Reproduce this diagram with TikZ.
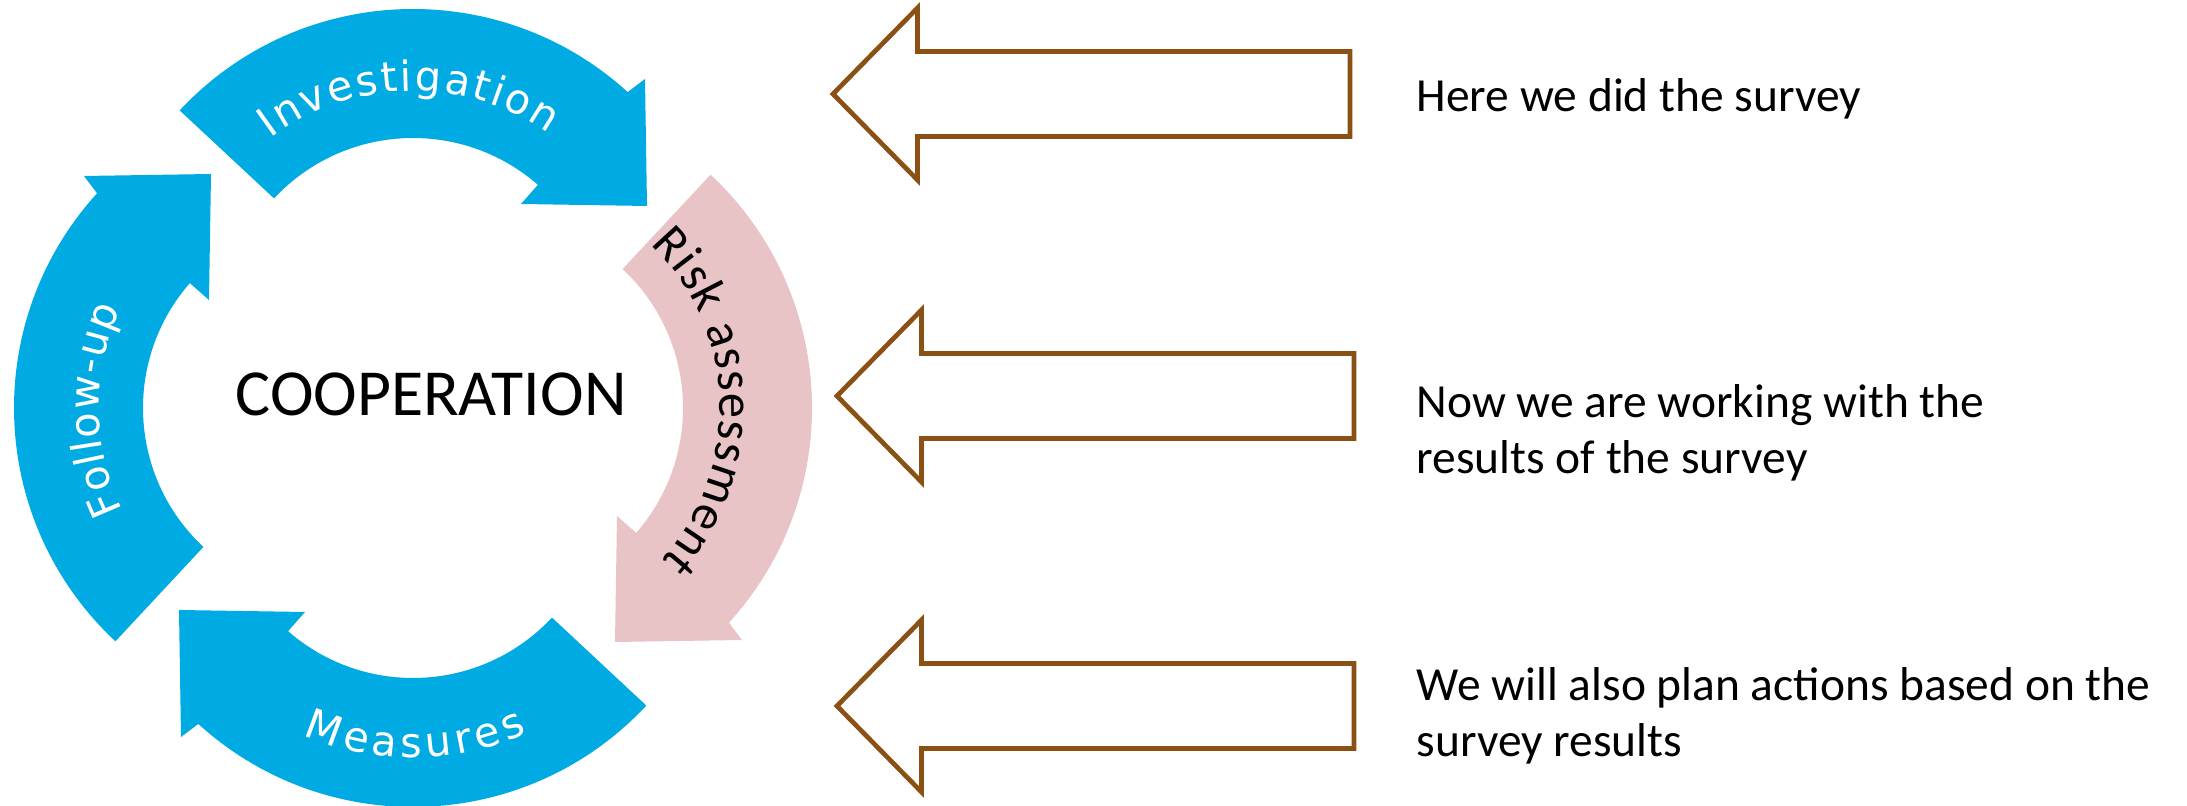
\documentclass[tikz,border=0pt]{standalone}
\usepackage{fontspec}
\setmainfont{Carlito}
\newfontfamily\dejavu{DejaVu Sans}
\usetikzlibrary{decorations.text}
\definecolor{cycblue}{RGB}{0,171,228}
\definecolor{cycpink}{RGB}{232,196,199}
\definecolor{arrbrown}{RGB}{139,80,20}
\newcommand{\cycpath}{(137:319) arc[start angle=137,end angle=47.7,radius=319] -- (232,249) -- (234,122) -- (108,124) -- (48.9:190) arc[start angle=48.9,end angle=137,radius=190] -- cycle}
\newcommand{\brownpath}{(0,0) -- (84.5,86) -- (84.5,42.5) -- (517,42.5) -- (517,-42.5) -- (84.5,-42.5) -- (84.5,-86) -- cycle}
\newcommand{\lblfont}{\dejavu\fontsize{11.8}{14}\selectfont}
\newcommand{\riskfont}{\fontsize{14.3}{16}\selectfont}
\tikzset{
  brownarrow/.style={draw=arrbrown, line width=1.34pt, fill=white, miter limit=20},
  sidetext/.style={inner sep=0pt, anchor=base west, align=left, font=\fontsize{13.5}{16.2}\selectfont},
}
\begin{document}
\begin{tikzpicture}[x=0.01cm,y=0.01cm]
\fill[white] (0,0) rectangle (2187,806);
\useasboundingbox (0,0) rectangle (2187,806);
\coordinate (C) at (413,398);
% cycle arrows
\begin{scope}[shift={(413,398)}]
  \fill[cycblue, shift={(0,80)}] \cycpath;
  \fill[cycpink, rotate=-90, shift={(0,80)}] \cycpath;
  \fill[cycblue, rotate=180, shift={(0,80)}] \cycpath;
  \fill[cycblue, rotate=90, shift={(0,80)}] \cycpath;
\end{scope}
% Investigation label
\begin{scope}[shift={(413,478)}]
  \path[decorate, decoration={text along path, text align={fit to path}, text color=white, text={|\lblfont|Investigation}}] (127:237) arc[start angle=127,end angle=55,radius=237];
\end{scope}
% Follow-up label
\begin{scope}[shift={(333,398)}]
  \path[decorate, decoration={text along path, text align={fit to path}, text color=white, text={|\lblfont|Follow-up}}] (206:234) arc[start angle=206,end angle=155,radius=234];
\end{scope}
% Measures label
\begin{scope}[shift={(413,318)}]
  \path[decorate, decoration={text along path, text align={fit to path}, text color=white, text={|\lblfont|Measures}}] (246:270) arc[start angle=246,end angle=295,radius=270];
\end{scope}
% Risk assessment label
\begin{scope}[shift={(493,398)}]
  \path[decorate, decoration={text along path, text align={fit to path}, text color=black, text={|\riskfont|Risk assessment}}] (46:227) arc[start angle=46,end angle=-42,radius=227];
\end{scope}
% centre text
\node[inner sep=0pt, anchor=base, font=\fontsize{18.7}{22}\selectfont] (coop) at (431,390) {COOPERATION};
% brown arrows
\draw[brownarrow, shift={(833,712)}] \brownpath;
\draw[brownarrow, shift={(837,410)}] \brownpath;
\draw[brownarrow, shift={(837,100)}] \brownpath;
% side texts (base anchor = last line)
\node[sidetext] (t1) at (1416,694) {Here we did the survey};
\node[sidetext] (t2) at (1416,332) {Now we are working with the\\results of the survey};
\node[sidetext] (t3) at (1416,49) {We will also plan actions based on the\\survey results};
\end{tikzpicture}
\end{document}
